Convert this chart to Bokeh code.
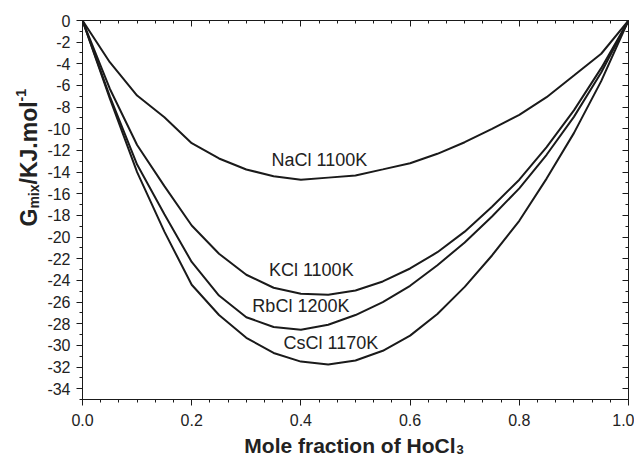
import math
from bokeh.plotting import figure
from bokeh.layouts import row, column
from bokeh.models import LinearAxis, FixedTicker, Range1d, Label
from bokeh.embed import file_html
from bokeh.resources import INLINE
from bokeh.core.properties import value

# ---------------- data ----------------
mole_fraction = [0.0, 0.05, 0.10, 0.15, 0.20, 0.25, 0.30, 0.35, 0.40, 0.45, 0.50,
                 0.55, 0.60, 0.65, 0.70, 0.75, 0.80, 0.85, 0.90, 0.95, 1.0]
nacl_1100 = [0, -3.85, -6.93, -8.93, -11.33, -12.74, -13.76, -14.38, -14.71, -14.51, -14.31,
             -13.75, -13.18, -12.31, -11.24, -10.0, -8.71, -7.08, -5.08, -3.07, 0]
kcl_1100 = [0, -6.3, -11.5, -15.3, -18.93, -21.54, -23.48, -24.68, -25.24, -25.33, -24.93,
            -24.1, -22.9, -21.4, -19.5, -17.2, -14.7, -11.7, -8.3, -4.4, 0]
rbcl_1200 = [0, -7.0, -13.3, -17.9, -22.3, -25.4, -27.4, -28.3, -28.56, -28.1, -27.2,
             -26.0, -24.5, -22.6, -20.5, -18.1, -15.5, -12.4, -8.9, -4.8, 0]
cscl_1170 = [0, -7.2, -14.0, -19.5, -24.4, -27.2, -29.3, -30.7, -31.5, -31.76, -31.4,
             -30.5, -29.1, -27.1, -24.6, -21.7, -18.5, -14.6, -10.4, -5.6, 0]

series_names = ["NaCl 1100K", "KCl 1100K", "RbCl 1200K", "CsCl 1170K"]
label_x = [0.434, 0.419, 0.400, 0.455]
label_y = [-12.9, -23.0, -26.4, -29.8]

x_ticks = [0.0, 0.2, 0.4, 0.6, 0.8, 1.0]
x_tick_labels = ["0.0", "0.2", "0.4", "0.6", "0.8", "1.0"]
x_minor = [i / 30 for i in range(31)]
y_ticks = [0, -2, -4, -6, -8, -10, -12, -14, -16, -18, -20, -22, -24, -26, -28, -30, -32, -34]
y_tick_labels = ["0", "-2", "-4", "-6", "-8", "-10", "-12", "-14", "-16", "-18", "-20",
                 "-22", "-24", "-26", "-28", "-30", "-32", "-34"]
y_minor = list(range(0, -36, -1))

x_title = "Mole fraction of HoCl"
x_title_sub = "3"
y_title_parts = ["G", "mix", "/KJ.mol", "-1"]

# ---------------- style ----------------
FONT = "Liberation Sans"
INK = "#1a1a1a"
TXT = "#222222"

TITLE_W = 40          # strip holding the rotated y title
MAIN_H = 431
XT_OVERLAP = 14       # x-title strip overlaps the main figure's bottom (transparent)
XT_H = 456 - MAIN_H + XT_OVERLAP

p = figure(width=594, height=MAIN_H, output_backend="svg", toolbar_location=None,
           x_range=Range1d(0, 1), y_range=Range1d(-35, 0),
           x_axis_location=None, y_axis_location=None,
           min_border_left=42, min_border_right=6, min_border_top=20, min_border_bottom=32)
p.grid.visible = False
p.outline_line_color = INK
p.outline_line_width = 1


def style_axis(ax, inward, labels):
    ax.axis_line_color = INK
    ax.axis_line_width = 1
    ax.major_tick_line_color = INK
    ax.minor_tick_line_color = INK
    if inward:
        ax.major_tick_in, ax.major_tick_out = 6, 0
        ax.minor_tick_in, ax.minor_tick_out = 3, 0
    else:
        ax.major_tick_in, ax.major_tick_out = 0, 6
        ax.minor_tick_in, ax.minor_tick_out = 0, 3
    ax.major_label_text_font = FONT
    ax.major_label_text_font_size = "16px"
    ax.major_label_text_color = TXT
    ax.major_label_overrides = labels


xt = FixedTicker(ticks=x_ticks, minor_ticks=x_minor)
yt = FixedTicker(ticks=y_ticks, minor_ticks=y_minor)

xb = LinearAxis(ticker=xt)
style_axis(xb, False, {t: s for t, s in zip(x_ticks, x_tick_labels)})
xb.major_label_standoff = 8
p.add_layout(xb, "below")

yl = LinearAxis(ticker=yt)
style_axis(yl, False, {t: s for t, s in zip(y_ticks, y_tick_labels)})
yl.major_label_standoff = 6
p.add_layout(yl, "left")

xa = LinearAxis(ticker=xt)
style_axis(xa, True, {t: "" for t in x_ticks})
xa.major_label_standoff = 0
p.add_layout(xa, "above")

yr = LinearAxis(ticker=yt)
style_axis(yr, True, {t: "" for t in y_ticks})
yr.major_label_standoff = 0
p.add_layout(yr, "right")

for ys in (nacl_1100, kcl_1100, rbcl_1200, cscl_1170):
    p.line(mole_fraction, ys, line_color=INK, line_width=2)

p.text(x=label_x, y=label_y, text=series_names, text_font=value(FONT),
       text_font_size="18px", text_align="center", text_baseline="middle",
       text_color=TXT)


def strip(w, h):
    f = figure(width=w, height=h, output_backend="svg", toolbar_location=None,
               x_range=Range1d(0, 1), y_range=Range1d(0, 1),
               x_axis_location=None, y_axis_location=None, min_border=0)
    f.grid.visible = False
    f.outline_line_color = None
    f.background_fill_color = None
    f.border_fill_color = None
    return f


# ---------------- y title (pieces so sub/superscripts stay real text) ----------------
yf = strip(TITLE_W, MAIN_H)
W = {"G": .778, "m": .889, "i": .278, "x": .556, "/": .278, "K": .722, "J": .556,
     ".": .278, "o": .611, "l": .278, "-": .333, "1": .556}
sizes = [23, 14, 23, 14]
shifts = [0, 5, 0, -8]
ypos = MAIN_H - 258
base_x = 28
for part, sz, sh in zip(y_title_parts, sizes, shifts):
    yf.add_layout(Label(x=base_x + sh, y=ypos, x_units="screen", y_units="screen", text=part,
                        angle=math.pi / 2, text_font=FONT, text_font_size=f"{sz}px",
                        text_font_style="bold", text_align="left", text_baseline="alphabetic",
                        text_color=TXT))
    ypos += sum(W[c] for c in part) * sz

# ---------------- x title ----------------
xf = strip(TITLE_W + 594, XT_H)
xf.margin = (-XT_OVERLAP, 0, 0, 0)
xf.add_layout(Label(x=455, y=11, x_units="screen", y_units="screen", text=x_title,
                    text_font=FONT, text_font_size="21px", text_font_style="bold",
                    text_align="right", text_baseline="alphabetic", text_color=TXT))
xf.add_layout(Label(x=456, y=7, x_units="screen", y_units="screen", text=x_title_sub,
                    text_font=FONT, text_font_size="13px", text_font_style="bold",
                    text_align="left", text_baseline="alphabetic", text_color=TXT))

layout = column(row(yf, p), xf)
open("out.html", "w").write(file_html(layout, INLINE))
